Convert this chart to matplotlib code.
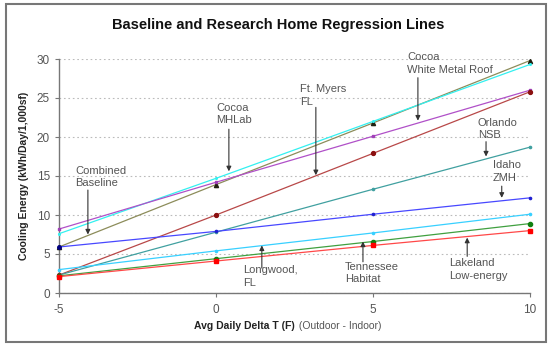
import matplotlib
matplotlib.use("Agg")
import matplotlib.pyplot as plt
from matplotlib.patches import Rectangle

plt.rcParams['font.family'] = ['Liberation Sans', 'DejaVu Sans']
plt.rcParams['axes.unicode_minus'] = False

x_vals = [-5, 0, 5, 10]

olive_vals = [5.9, 13.9, 21.8, 29.8]
cyan_vals = [7.6, 14.7, 22.0, 29.3]
purple_vals = [8.2, 14.2, 20.1, 26.0]
brown_vals = [2.3, 10.0, 17.9, 25.8]
teal_vals = [2.3, 7.8, 13.3, 18.7]
blue_vals = [5.9, 7.9, 10.1, 12.2]
lcyan_vals = [3.0, 5.4, 7.7, 10.1]
green_vals = [2.2, 4.4, 6.6, 8.9]
red_vals = [2.1, 4.1, 6.1, 8.0]

annot_labels = ["Cocoa\nMHLab", "Combined\nBaseline", "Ft. Myers\nFL",
                "Cocoa\nWhite Metal Roof", "Orlando\nNSB", "Idaho\nZMH",
                "Longwood,\nFL", "Tennessee\nHabitat", "Lakeland\nLow-energy"]

fig = plt.figure(figsize=(5.5, 3.48), dpi=100)
ax = fig.add_axes([59/550, 1-293/348, (530-59)/550, (293-59)/348])

styles = [
    (olive_vals, '#8c8c5a', '^', '#202010', 3.0),
    (cyan_vals, '#33f0f0', 'o', '#33f0f0', 1.2),
    (purple_vals, '#b050c8', 's', '#a040b8', 2.0),
    (brown_vals, '#b84848', 'o', '#8b1010', 2.8),
    (teal_vals, '#40a0a0', 'o', '#40a0a0', 1.6),
    (blue_vals, '#4848ff', 'o', '#2020d0', 1.6),
    (lcyan_vals, '#38d0ff', 'o', '#38d0ff', 1.6),
    (green_vals, '#40a040', 'o', '#108010', 3.0),
    (red_vals, '#ff4848', 's', '#ff0000', 3.2),
]
for vals, col, mk, mcol, ms in styles:
    ax.plot(x_vals, vals, color=col, lw=0.9, marker=mk, markersize=ms,
            markerfacecolor=mcol, markeredgecolor=mcol, clip_on=False, zorder=3)
ax.plot([-5], [blue_vals[0]], marker='o', markersize=2.5, color='#000080', clip_on=False, zorder=4)

ax.set_xlim(-5, 10)
ax.set_ylim(0, 30)
ax.set_xticks([-5, 0, 5, 10])
ax.set_yticks([0, 5, 10, 15, 20, 25, 30])
ax.yaxis.grid(True, linestyle=(0, (1.5, 2.5)), color='#bbbbbb', lw=0.8)
ax.set_axisbelow(True)
for s in ['top', 'right']:
    ax.spines[s].set_visible(False)
for s in ['left', 'bottom']:
    ax.spines[s].set_color('#777777')
    ax.spines[s].set_linewidth(1.0)
ax.tick_params(axis='both', colors='#777777', labelcolor='#555555', labelsize=8.5,
               length=3, direction='out')
ax.tick_params(axis='x', pad=5)

fig.text(278/550, 1-25/348, "Baseline and Research Home Regression Lines",
         ha='center', va='center', fontsize=10.5, fontweight='bold', color='#111111')
fig.text(24/550, 1-176/348, "Cooling Energy (kWh/Day/1,000sf)", rotation=90,
         ha='center', va='center', fontsize=7.5, fontweight='bold', color='#222222')
fig.text(295/550, 1-326/348, "Avg Daily Delta T (F)", ha='right', va='center',
         fontsize=7.5, fontweight='bold', color='#222222')
fig.text(296/550, 1-326/348, " (Outdoor - Indoor)", ha='left', va='center',
         fontsize=7.5, color='#555555')

text_pos = [(0.0, 22.95), (-4.49, 14.9), (2.68, 25.3), (6.08, 29.4), (8.34, 21.0),
            (8.82, 15.6), (0.86, 2.1), (4.11, 2.56), (7.42, 3.0)]
arrows = [((0.41, 21.0), (0.41, 15.6)), ((-4.08, 13.2), (-4.08, 7.5)),
          ((3.18, 23.8), (3.18, 15.1)), ((6.43, 27.6), (6.43, 22.1)),
          ((8.6, 19.4), (8.6, 17.5)), ((9.1, 13.7), (9.1, 12.2)),
          ((1.46, 3.2), (1.46, 6.1)), ((4.68, 4.0), (4.68, 6.6)),
          ((8.0, 4.7), (8.0, 7.1))]
for lab, (tx, ty), (a0, a1) in zip(annot_labels, text_pos, arrows):
    ax.text(tx, ty, lab, ha='left', va='center', fontsize=8, color='#555555',
            linespacing=1.3, zorder=5)
    ax.annotate('', xy=a1, xytext=a0,
                arrowprops=dict(arrowstyle='-|>', color='#333333', lw=0.8,
                                mutation_scale=7, shrinkA=0, shrinkB=0), zorder=5)

fig.patches.append(Rectangle((6/550, 1-342/348), 540/550, 338/348,
                             transform=fig.transFigure, fill=False,
                             edgecolor='#777777', lw=1.5))

fig.savefig("out.png", dpi=100)
